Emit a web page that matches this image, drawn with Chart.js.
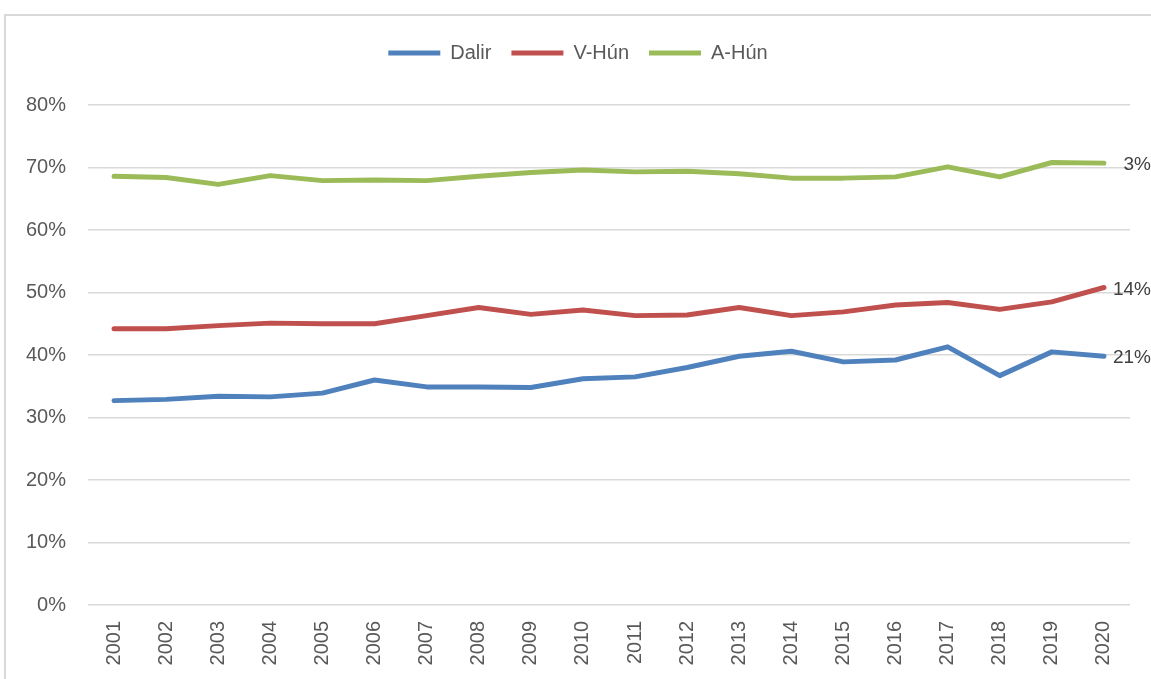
<!DOCTYPE html>
<html lang="is">
<head>
  <meta charset="UTF-8" />
  <title>Dalir / V-Hún / A-Hún</title>
  <script src="https://cdn.jsdelivr.net/npm/chart.js"></script>
  <style>
    body { margin: 0; background: #fff; }
    #wrap { position: relative; width: 1151px; height: 679px; overflow: hidden; }
    #frame {
      position: absolute; left: 4px; top: 14px; width: 1170px; height: 700px;
      border: 2px solid #d9d9d9; box-sizing: border-box;
    }
    canvas { position: absolute; left: 0; top: 0; }
  </style>
</head>
<body>
  <div id="wrap">
    <div id="frame"></div>
    <canvas id="chart" width="1151" height="679"></canvas>
  </div>

  <script>
    const years = ['2001','2002','2003','2004','2005','2006','2007','2008','2009','2010',
                   '2011','2012','2013','2014','2015','2016','2017','2018','2019','2020'];

    // shares in %
    const dalir = [32.7, 32.9, 33.4, 33.3, 33.9, 36.0, 34.9, 34.9, 34.8, 36.2,
                   36.5, 38.0, 39.8, 40.6, 38.9, 39.2, 41.3, 36.7, 40.5, 39.8];
    const vHun  = [44.2, 44.2, 44.7, 45.1, 45.0, 45.0, 46.3, 47.6, 46.5, 47.2,
                   46.3, 46.4, 47.6, 46.3, 46.9, 48.0, 48.4, 47.3, 48.5, 50.8];
    const aHun  = [68.6, 68.4, 67.3, 68.7, 67.9, 68.0, 67.9, 68.6, 69.2, 69.6,
                   69.3, 69.4, 69.0, 68.3, 68.3, 68.5, 70.1, 68.5, 70.8, 70.7];

    const seriesNames = ['Dalir', 'V-Hún', 'A-Hún'];
    const seriesColors = ['#4f81bd', '#c0504d', '#9bbb59'];
    const endLabels = ['21%', '14%', '3%'];

    const FONT = '"Liberation Sans", Arial, sans-serif';

    // extra room under the legend
    const legendGap = {
      id: 'legendGap',
      beforeInit(chart) {
        const origFit = chart.legend.fit;
        chart.legend.fit = function () {
          origFit.bind(chart.legend)();
          this.height += 32;
        };
      }
    };

    // change labels at the right end of each line
    const endLabelPlugin = {
      id: 'endLabels',
      afterDatasetsDraw(chart) {
        const ctx = chart.ctx;
        ctx.save();
        ctx.font = '19px ' + FONT;
        ctx.fillStyle = '#404040';
        ctx.textAlign = 'right';
        ctx.textBaseline = 'middle';
        chart.data.datasets.forEach((ds, i) => {
          const pts = chart.getDatasetMeta(i).data;
          const last = pts[pts.length - 1];
          ctx.fillText(endLabels[i], last.x + 47, last.y + 2);
        });
        ctx.restore();
      }
    };

    const allSeries = [dalir, vHun, aHun];
    const datasets = allSeries.map((vals, i) => ({
      label: seriesNames[i],
      data: vals,
      borderColor: seriesColors[i],
      backgroundColor: seriesColors[i],
      borderWidth: 5,
      borderCapStyle: 'round',
      borderJoinStyle: 'round',
      pointRadius: 0,
      pointStyle: 'line',
      tension: 0,
      fill: false
    }));

    new Chart(document.getElementById('chart'), {
      type: 'line',
      data: { labels: years, datasets: datasets },
      plugins: [legendGap, endLabelPlugin],
      options: {
        responsive: false,
        animation: false,
        layout: { padding: { left: 26, right: 21, top: 23, bottom: 4 } },
        plugins: {
          tooltip: { enabled: false },
          legend: {
            position: 'top',
            labels: {
              usePointStyle: true,
              pointStyleWidth: 52,
              boxHeight: 5,
              padding: 20,
              color: '#595959',
              font: { family: FONT, size: 20 }
            }
          }
        },
        scales: {
          x: {
            offset: true,
            grid: { display: false, drawTicks: false },
            border: { display: false },
            ticks: {
              minRotation: 90,
              maxRotation: 90,
              padding: 16,
              color: '#595959',
              font: { family: FONT, size: 20 }
            },
            afterFit(s) { s.height = 70; }
          },
          y: {
            min: 0,
            max: 80,
            grid: { color: '#d9d9d9', lineWidth: 1.5, drawTicks: false },
            border: { display: false },
            ticks: {
              stepSize: 10,
              padding: 22,
              color: '#595959',
              font: { family: FONT, size: 20 },
              callback: v => v + '%'
            },
            afterFit(s) { s.width = 62; }
          }
        }
      }
    });
  </script>
</body>
</html>
